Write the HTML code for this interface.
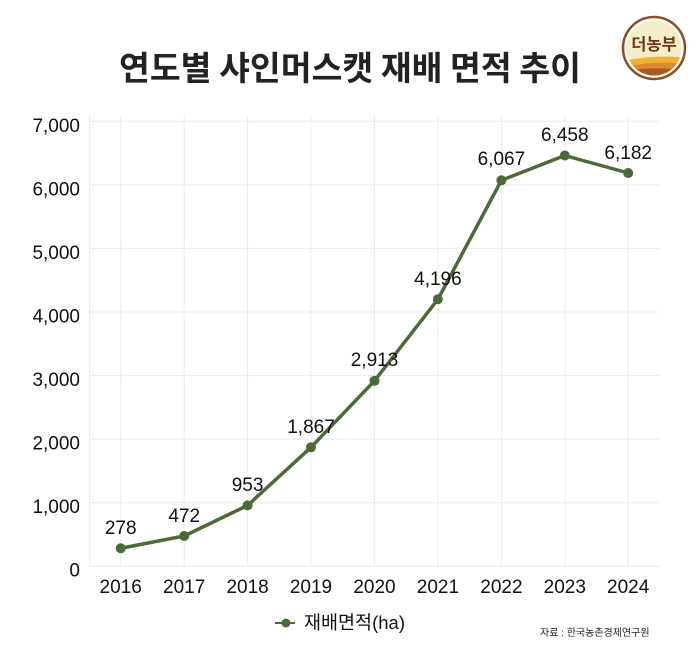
<!DOCTYPE html>
<html><head><meta charset="utf-8"><style>
html,body{margin:0;padding:0;background:#fff;}
svg{display:block;}
text{font-family:"Liberation Sans","Noto Sans CJK KR",sans-serif;}
</style></head><body>
<svg width="700" height="650" viewBox="0 0 700 650" xmlns="http://www.w3.org/2000/svg">
<rect width="700" height="650" fill="#fff"/>
<text x="350" y="80" text-anchor="middle" font-size="33.5" font-weight="bold" fill="#222" style="font-family:'Noto Sans CJK KR',sans-serif">연도별 샤인머스캣 재배 면적 추이</text>
<!-- logo -->
<g>
<circle cx="654" cy="48" r="31" fill="#fff" stroke="#8a4f25" stroke-width="2.5"/>
<clipPath id="lc"><circle cx="654" cy="48" r="27.5"/></clipPath>
<g clip-path="url(#lc)">
<rect x="620" y="14" width="70" height="70" fill="#f5edc9"/>
<path d="M620 62 Q650 54 690 58 L690 90 L620 90Z" fill="#f2b233"/>
<path d="M620 68 Q652 60 690 64 L690 90 L620 90Z" fill="#d98a2a"/>
<path d="M620 72 Q645 66 690 70 L690 90 L620 90Z" fill="#a85a22"/>
</g>
<text x="654" y="50" text-anchor="middle" font-size="16.5" font-weight="bold" fill="#6b3a1a" style="font-family:'Noto Sans CJK KR',sans-serif">더농부</text>
</g>
<!-- grid -->
<g stroke="#ececec" stroke-width="1">
<line x1="89" y1="121.3" x2="660" y2="121.3"/>
<line x1="89" y1="184.9" x2="660" y2="184.9"/>
<line x1="89" y1="248.4" x2="660" y2="248.4"/>
<line x1="89" y1="312" x2="660" y2="312"/>
<line x1="89" y1="375.6" x2="660" y2="375.6"/>
<line x1="89" y1="439.1" x2="660" y2="439.1"/>
<line x1="89" y1="502.7" x2="660" y2="502.7"/>
<line x1="89" y1="566.3" x2="660" y2="566.3"/>
<line x1="89.5" y1="115" x2="89.5" y2="566"/>
<line x1="120.7" y1="115" x2="120.7" y2="566"/>
<line x1="184.2" y1="115" x2="184.2" y2="566"/>
<line x1="247.6" y1="115" x2="247.6" y2="566"/>
<line x1="311" y1="115" x2="311" y2="566"/>
<line x1="374.5" y1="115" x2="374.5" y2="566"/>
<line x1="437.9" y1="115" x2="437.9" y2="566"/>
<line x1="501.4" y1="115" x2="501.4" y2="566"/>
<line x1="564.8" y1="115" x2="564.8" y2="566"/>
<line x1="628.2" y1="115" x2="628.2" y2="566"/>
</g>
<!-- y labels -->
<g font-size="19" fill="#111" text-anchor="end">
<text x="80" y="132">7,000</text>
<text x="80" y="195.5">6,000</text>
<text x="80" y="259">5,000</text>
<text x="80" y="322.5">4,000</text>
<text x="80" y="386">3,000</text>
<text x="80" y="449.5">2,000</text>
<text x="80" y="513">1,000</text>
<text x="80" y="576.5">0</text>
</g>
<!-- x labels -->
<g font-size="19" fill="#111" text-anchor="middle">
<text x="120.7" y="593">2016</text>
<text x="184.2" y="593">2017</text>
<text x="247.6" y="593">2018</text>
<text x="311" y="593">2019</text>
<text x="374.5" y="593">2020</text>
<text x="437.9" y="593">2021</text>
<text x="501.4" y="593">2022</text>
<text x="564.8" y="593">2023</text>
<text x="628.2" y="593">2024</text>
</g>
<!-- series -->
<polyline fill="none" stroke="#4b6a3a" stroke-width="3.5" stroke-linejoin="round" points="120.7,548.3 184.2,536 247.6,505.4 311,447.3 374.5,380.8 437.9,299.3 501.4,180.3 564.8,155.5 628.2,173"/>
<g fill="#4b6a3a">
<circle cx="120.7" cy="548.3" r="5"/>
<circle cx="184.2" cy="536" r="5"/>
<circle cx="247.6" cy="505.4" r="5"/>
<circle cx="311" cy="447.3" r="5"/>
<circle cx="374.5" cy="380.8" r="5"/>
<circle cx="437.9" cy="299.3" r="5"/>
<circle cx="501.4" cy="180.3" r="5"/>
<circle cx="564.8" cy="155.5" r="5"/>
<circle cx="628.2" cy="173" r="5"/>
</g>
<!-- data labels -->
<g font-size="19" fill="#111" text-anchor="middle">
<text x="120.7" y="534">278</text>
<text x="184.2" y="522">472</text>
<text x="247.6" y="491">953</text>
<text x="311" y="433">1,867</text>
<text x="374.5" y="366">2,913</text>
<text x="437.9" y="285">4,196</text>
<text x="501.4" y="165">6,067</text>
<text x="564.8" y="141">6,458</text>
<text x="628.2" y="159">6,182</text>
</g>
<!-- legend -->
<line x1="275" y1="623" x2="295" y2="623" stroke="#4b6a3a" stroke-width="2"/>
<circle cx="286" cy="623" r="4.5" fill="#4b6a3a"/>
<text x="304" y="629" font-size="18.5" fill="#111">재배면적(ha)</text>
<text x="540" y="636" font-size="10" fill="#222">자료 : 한국농촌경제연구원</text>
</svg>
</body></html>
